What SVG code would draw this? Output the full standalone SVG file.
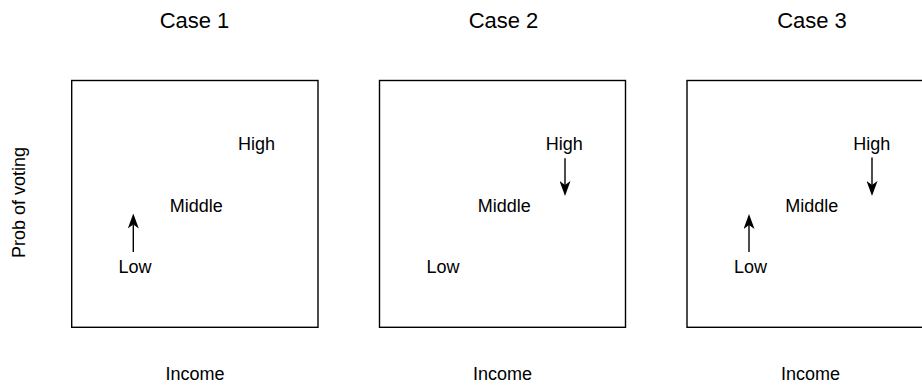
<svg xmlns="http://www.w3.org/2000/svg" width="922" height="385" viewBox="0 0 922 385">
<style>
.t{font-family:"Liberation Sans",Arial,sans-serif;fill:#000;text-anchor:middle}
.title{font-size:22px}
.lbl{font-size:18px}
.box{fill:#fff;stroke:#000;stroke-width:1.4}
.arr{stroke:#000;stroke-width:1.4;fill:none;marker-end:url(#head)}
</style>
<defs>
<marker id="head" viewBox="0 0 15 11" refX="4" refY="5.5" markerWidth="15" markerHeight="11" markerUnits="userSpaceOnUse" orient="auto">
<path d="M0,0 L15,5.5 L0,11 L4,5.5 Z" fill="#000"/>
</marker>
</defs>
<rect width="922" height="385" fill="#fff"/>
<g id="axis-y"><text class="t lbl" transform="translate(25,202.5) rotate(-90)">Prob of voting</text></g>
<g id="case1">
<text class="t title" x="194.5" y="27.5">Case 1</text>
<rect class="box" x="71.7" y="80.5" width="246.3" height="246.8"/>
<text class="t lbl" x="256.5" y="150">High</text>
<text class="t lbl" x="196.3" y="211.5">Middle</text>
<text class="t lbl" x="135" y="273">Low</text>
<text class="t lbl" x="195" y="380">Income</text>
</g>
<g id="case2">
<text class="t title" x="503.5" y="27.5">Case 2</text>
<rect class="box" x="379.5" y="80.5" width="246" height="246.8"/>
<text class="t lbl" x="564.3" y="150">High</text>
<text class="t lbl" x="504.2" y="211.5">Middle</text>
<text class="t lbl" x="443" y="273">Low</text>
<text class="t lbl" x="502.5" y="380">Income</text>
</g>
<g id="case3">
<text class="t title" x="812" y="27.5">Case 3</text>
<rect class="box" x="687" y="80.5" width="246" height="246.8"/>
<text class="t lbl" x="871.8" y="150">High</text>
<text class="t lbl" x="811.7" y="211.5">Middle</text>
<text class="t lbl" x="750.5" y="273">Low</text>
<text class="t lbl" x="810.5" y="380">Income</text>
</g>
<g id="connectors">
<line class="arr" x1="133.3" y1="252" x2="133.3" y2="224.5"/>
<line class="arr" x1="565" y1="158.3" x2="565" y2="185"/>
<line class="arr" x1="749" y1="252" x2="749" y2="225"/>
<line class="arr" x1="872" y1="157.5" x2="872" y2="185"/>
</g>
</svg>
